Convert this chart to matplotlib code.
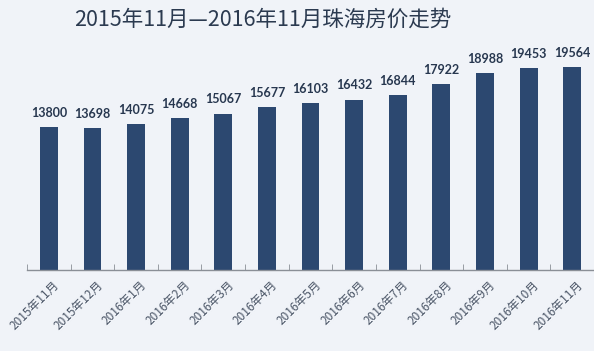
import matplotlib
matplotlib.use("Agg")
import matplotlib.pyplot as plt
import matplotlib.transforms as mtransforms
import numpy as np

months = ["2015年11月", "2015年12月", "2016年1月", "2016年2月", "2016年3月", "2016年4月",
          "2016年5月", "2016年6月", "2016年7月", "2016年8月", "2016年9月", "2016年10月", "2016年11月"]
prices = [13800, 13698, 14075, 14668, 15067, 15677, 16103, 16432, 16844, 17922, 18988, 19453, 19564]
title = "2015年11月—2016年11月珠海房价走势"

bar_color = "#2c4870"
bg = "#f0f3f8"

fig = plt.figure(figsize=(5.94, 3.51), dpi=100, facecolor=bg)
ax = fig.add_axes([0.0455, 0.2308, 0.9545, 0.655])
ax.set_facecolor("none")

x = np.arange(len(months))
bars = ax.bar(x, prices, width=0.41, color=bar_color, zorder=2)
for xi, v in zip(x, prices):
    ax.annotate(f"{v}", (xi, v), xytext=(0, 6), textcoords="offset points",
                ha="center", va="bottom", fontsize=9, fontweight="bold",
                color="#27374f", family=["Lato", "DejaVu Sans"])

ax.set_xlim(-0.5, len(months) - 0.5)
ax.set_ylim(0, 22166)
ax.set_yticks([])
for s in ["top", "right", "left"]:
    ax.spines[s].set_visible(False)
ax.spines["bottom"].set_color("#8a8f96")
ax.spines["bottom"].set_linewidth(1.0)

ax.set_xticks(x)
ax.set_xticklabels(months, rotation=45, ha="right", rotation_mode="anchor",
                   fontsize=8.5, fontweight="medium", color="#4a5566",
                   family=["Noto Sans CJK SC", "DejaVu Sans"])
ax.tick_params(axis="x", length=0, pad=6)
offset = mtransforms.ScaledTranslation(4 / 100, 0, fig.dpi_scale_trans)
for lbl in ax.get_xticklabels():
    lbl.set_transform(lbl.get_transform() + offset)
ax.set_xticks(np.arange(-0.5, len(months), 1.0), minor=True)
ax.tick_params(axis="x", which="minor", direction="in", length=4, color="#8a8f96")

fig.text(0.443, 0.943, title, ha="center", va="center", fontsize=15.5,
         color="#2b3a50", family=["Noto Sans CJK SC", "DejaVu Sans"])

fig.savefig("out.png", dpi=100, facecolor=bg)
